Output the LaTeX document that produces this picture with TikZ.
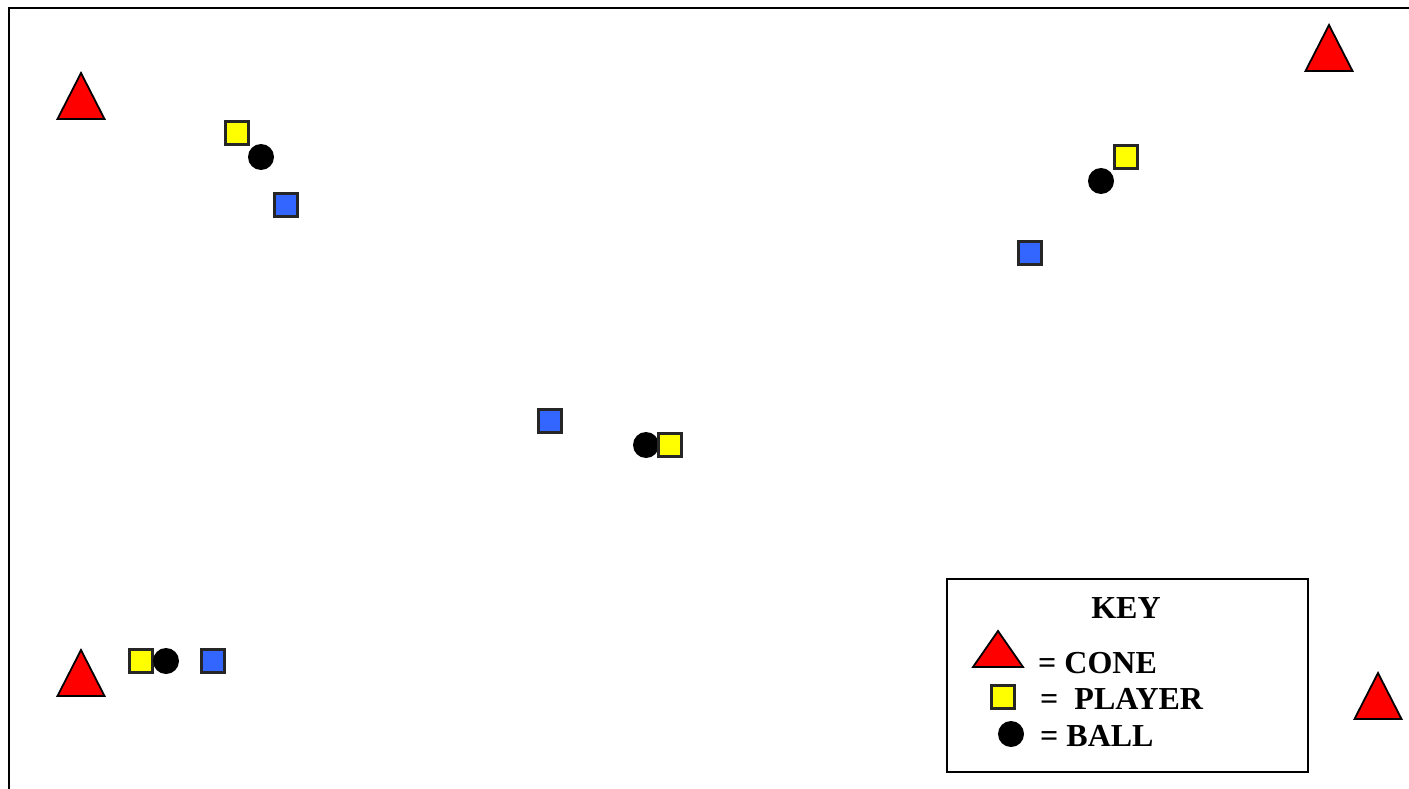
\documentclass[tikz,border=0pt]{standalone}
\usepackage{fontspec}
\setmainfont{Liberation Serif}
\usepackage{xcolor}
\usepackage{tikz}
\usetikzlibrary{shapes.geometric}

\definecolor{conered}{HTML}{FF0000}
\definecolor{playeryellow}{HTML}{FFFF00}
\definecolor{opponentblue}{HTML}{3366FF}

\begin{document}
\begin{tikzpicture}[
    x=1pt, y=-1pt,
    font=\bfseries\fontsize{32}{38}\selectfont,
    cone/.style={
      isosceles triangle,
      isosceles triangle stretches,
      shape border rotate=90,
      draw=black,
      fill=conered,
      line width=1.8pt,
      minimum width=47pt,
      minimum height=46pt,
      inner sep=0pt,
      outer sep=0pt,
      anchor=apex
    },
    player/.style={
      rectangle,
      draw=black!85,
      fill=playeryellow,
      line width=2.2pt,
      minimum size=23pt,
      inner sep=0pt
    },
    opponent/.style={
      player,
      fill=opponentblue
    },
    ball/.style={
      circle,
      fill=black,
      minimum size=26pt,
      inner sep=0pt
    },
    keytext/.style={
      anchor=base west,
      inner sep=0pt
    }
  ]

    \useasboundingbox (0,0) rectangle (1409,789);

    % Pitch border (only left and top edges show)
    \coordinate (pitchbl) at (9,800);
    \coordinate (pitchtl) at (9,8);
    \coordinate (pitchtr) at (1420,8);
    \draw[line width=2.5pt] (pitchbl) -- (pitchtl) -- (pitchtr);

    % Cones at the corners
    \node[cone] (conetl) at (81,73) {};
    \node[cone] (conetr) at (1329,25) {};
    \node[cone] (conebl) at (81,650) {};
    \node[cone] (conebr) at (1378,673) {};

    % Top left group
    \node[player] (playertl) at (237,133) {};
    \node[ball] (balltl) at (261,157) {};
    \node[opponent] (opptl) at (286,205) {};

    % Top right group
    \node[player] (playertr) at (1126,157) {};
    \node[ball] (balltr) at (1101,181) {};
    \node[opponent] (opptr) at (1030,253) {};

    % Middle group
    \node[opponent] (oppmid) at (550,421) {};
    \node[ball] (ballmid) at (646,445) {};
    \node[player] (playermid) at (670,445) {};

    % Bottom left group
    \node[player] (playerbl) at (141,661) {};
    \node[ball] (ballbl) at (166,661) {};
    \node[opponent] (oppbl) at (213,661) {};

    % Key box
    \node[draw, line width=1.8pt, minimum width=361pt, minimum height=193pt,
      inner sep=0pt, anchor=north west] (key) at (946,578) {};
    \node[anchor=base, inner sep=0pt] (keytitle) at (1126,618) {KEY};

    \node[cone, minimum width=50pt, minimum height=36pt] (keycone) at (998,631) {};
    \node[keytext] (conetext) at (1038,673) {= CONE};

    \node[player] (keyplayer) at (1003,697) {};
    \node[keytext] (playertext) at (1040,709) {=\ \ PLAYER};

    \node[ball] (keyball) at (1011,734) {};
    \node[keytext] (balltext) at (1040,746) {= BALL};

  \end{tikzpicture}
\end{document}
